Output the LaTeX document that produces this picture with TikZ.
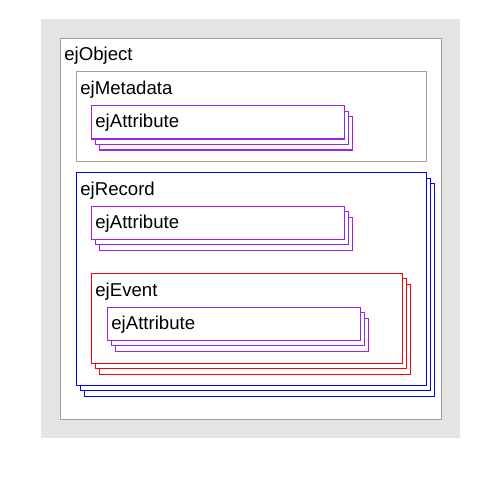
\documentclass[tikz,border=0pt]{standalone}
\usepackage{fontspec}
\setmainfont{Liberation Sans}
\usepackage{xcolor}
\usepackage{tikz}
\usetikzlibrary{positioning}
\definecolor{bggray}{RGB}{228,228,228}
\definecolor{framegray}{RGB}{160,160,160}
\definecolor{attrpurple}{RGB}{160,32,240}
\tikzset{
  graybox/.style={draw=framegray, fill=white, line width=0.6pt},
  attrbox/.style={draw=attrpurple, fill=white, line width=0.6pt},
  recbox/.style={draw=blue, fill=white, line width=0.6pt},
  evbox/.style={draw=red, fill=white, line width=0.6pt},
  lbl/.style={anchor=base west, inner sep=0pt, font=\fontsize{9.3}{11}\selectfont}
}

\begin{document}
\begin{tikzpicture}[x=0.5pt, y=-0.5pt]
        \useasboundingbox (0,0) rectangle (480,480);
        \fill[bggray] (41,19) rectangle (460,438);
        % object
        \draw[graybox] (60.3,38.7) rectangle (441.7,419.3);
        \node[lbl] (object) at (64,61) {ejObject};
        % metadata
        \draw[graybox] (76.3,71.3) rectangle (426.3,161.3);
        \node[lbl] (metadata) at (80,95) {ejMetadata};
        \foreach \k in {2,1,0}
            \draw[attrbox, shift={(4*\k,5.5*\k)}] (91.3,105.7) rectangle (344.7,139);
        \node[lbl] (metaattr) at (95,127.7) {ejAttribute};
        % record
        \foreach \k in {2,1,0}
            \draw[recbox, shift={(4*\k,5.5*\k)}] (76.3,172.7) rectangle (426.3,385.3);
        \node[lbl] (record) at (80,195.7) {ejRecord};
        \foreach \k in {2,1,0}
            \draw[attrbox, shift={(4*\k,5.5*\k)}] (91.3,206.3) rectangle (344.7,239.3);
        \node[lbl] (recattr) at (95,228.3) {ejAttribute};
        % event
        \foreach \k in {2,1,0}
            \draw[evbox, shift={(4*\k,5.5*\k)}] (91.3,273.3) rectangle (402.7,363.3);
        \node[lbl] (event) at (95,296.2) {ejEvent};
        \foreach \k in {2,1,0}
            \draw[attrbox, shift={(4*\k,5.5*\k)}] (107.3,307.3) rectangle (360.7,340.3);
        \node[lbl] (evattr) at (111,329.5) {ejAttribute};
\end{tikzpicture}
\end{document}
